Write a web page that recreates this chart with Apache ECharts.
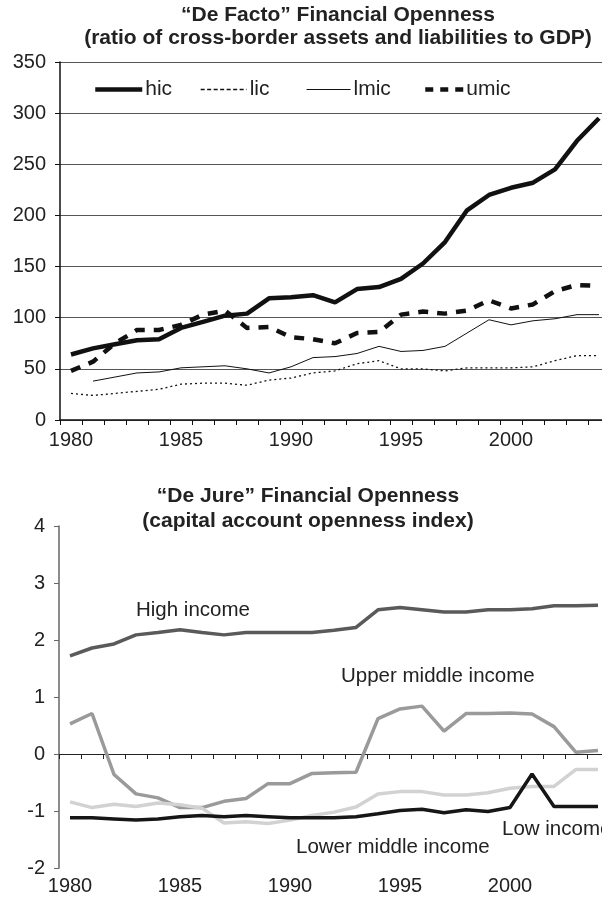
<!DOCTYPE html>
<html>
<head>
<meta charset="utf-8">
<script src="https://cdn.jsdelivr.net/npm/echarts@6/dist/echarts.min.js"></script>
<style>
html,body{margin:0;padding:0;background:#fff;overflow:hidden;}
#chart{width:612px;height:900px;}
</style>
</head>
<body>
<div id="chart"></div>
<script>
// ---- Data ----
var years = ['1980','1981','1982','1983','1984','1985','1986','1987','1988','1989','1990','1991','1992','1993','1994','1995','1996','1997','1998','1999','2000','2001','2002','2003','2004'];

// "De Facto" financial openness (% of GDP)
var hic  = [64, 70, 74, 78, 79, 90, 96, 102, 104, 119, 120, 122, 115, 128, 130, 138, 153, 174, 205, 220, 227, 232, 245, 273, 295];
var lic  = [26, 24, 26, 28, 30, 35, 36, 36, 34, 39, 41, 46, 48, 55, 58, 50, 50, 48, 51, 51, 51, 52, 58, 63, 63];
var lmic = [null, 38, 42, 46, 47, 51, 52, 53, 50, 46, 52, 61, 62, 65, 72, 67, 68, 72, 85, 98, 93, 97, 99, 103, 103];
var umic = [48, 57, 75, 88, 88, 93, 103, 107, 90, 91, 81, 79, 75, 85, 86, 103, 106, 104, 107, 117, 109, 113, 126, 132, 131];

// "De Jure" capital account openness index
var highIncome  = [1.72, 1.86, 1.93, 2.09, 2.13, 2.18, 2.13, 2.09, 2.13, 2.13, 2.13, 2.13, 2.17, 2.22, 2.53, 2.57, 2.53, 2.49, 2.49, 2.53, 2.53, 2.55, 2.60, 2.60, 2.61];
var upperMiddle = [0.53, 0.71, -0.36, -0.70, -0.77, -0.94, -0.94, -0.83, -0.78, -0.52, -0.52, -0.34, -0.33, -0.32, 0.62, 0.79, 0.84, 0.40, 0.71, 0.71, 0.72, 0.70, 0.48, 0.03, 0.06];
var lowerMiddle = [-0.84, -0.94, -0.88, -0.92, -0.86, -0.89, -0.95, -1.21, -1.19, -1.22, -1.16, -1.08, -1.02, -0.93, -0.70, -0.66, -0.66, -0.72, -0.72, -0.68, -0.60, -0.57, -0.57, -0.27, -0.27];
var lowIncome   = [-1.12, -1.12, -1.14, -1.16, -1.14, -1.10, -1.08, -1.10, -1.08, -1.10, -1.12, -1.12, -1.12, -1.10, -1.05, -0.99, -0.97, -1.03, -0.98, -1.01, -0.94, -0.35, -0.92, -0.92, -0.92];

var topTicks = [0, 50, 100, 150, 200, 250, 300, 350];
var bottomTicks = [-2, -1, 0, 1, 2, 3, 4];

var FONT = 'Liberation Sans, Arial, sans-serif';
var TXT = '#222';

var chart = echarts.init(document.getElementById('chart'), null, {renderer: 'canvas'});

function legendItem(name, left, w, lw, ltype) {
  return {
    data: [name], left: left, top: 79, padding: 0, itemWidth: w, itemHeight: 14, itemGap: 0,
    textStyle: {fontFamily: FONT, fontSize: 21, color: TXT, padding: [0, 0, 0, -2]},
    itemStyle: {color: 'rgba(0,0,0,0)', borderColor: 'rgba(0,0,0,0)', borderWidth: 0, opacity: 0},
    lineStyle: {color: '#111', width: lw, type: ltype},
    selectedMode: false
  };
}

var option = {
  animation: false,
  backgroundColor: '#fff',
  title: [
    {text: '“De Facto” Financial Openness\n(ratio of cross-border assets and liabilities to GDP)',
     left: 338, top: 4, textAlign: 'center', padding: 0,
     textStyle: {fontFamily: FONT, fontSize: 21, fontWeight: 'bold', color: TXT, lineHeight: 23}},
    {text: '“De Jure” Financial Openness\n(capital account openness index)',
     left: 308, top: 484, textAlign: 'center', padding: 0,
     textStyle: {fontFamily: FONT, fontSize: 21, fontWeight: 'bold', color: TXT, lineHeight: 25}}
  ],
  legend: [
    legendItem('hic', 93, 47, 4.5, 'solid'),
    legendItem('lic', 200, 46, 1.3, [4, 2.5]),
    legendItem('lmic', 306, 44, 1, 'solid'),
    legendItem('umic', 423, 38, 4.5, [8, 7])
  ],
  grid: [
    {left: 60, top: 62, width: 550, height: 358},
    {left: 59, top: 526, width: 550, height: 342}
  ],
  xAxis: [
    {type: 'category', gridIndex: 0, data: years, boundaryGap: true,
     axisLine: {lineStyle: {color: '#111', width: 1.5}},
     axisTick: {show: true, interval: 0, length: 5, lineStyle: {color: '#111'}},
     axisLabel: {interval: 4, fontFamily: FONT, fontSize: 20, color: TXT, margin: 10},
     splitLine: {show: false}},
    {type: 'category', gridIndex: 1, data: years, boundaryGap: true, position: 'bottom',
     axisLine: {onZero: true, lineStyle: {color: '#222', width: 1.2}},
     axisTick: {show: true, interval: 0, length: 5, lineStyle: {color: '#222'}},
     axisLabel: {show: false},
     splitLine: {show: false}},
    {type: 'category', gridIndex: 1, data: years, boundaryGap: true, position: 'bottom',
     axisLine: {show: false, onZero: false},
     axisTick: {show: false},
     axisLabel: {interval: 4, fontFamily: FONT, fontSize: 20, color: TXT, margin: 8},
     splitLine: {show: false}}
  ],
  yAxis: [
    {type: 'value', gridIndex: 0, min: topTicks[0], max: topTicks[topTicks.length - 1], interval: 50,
     axisLine: {show: true, lineStyle: {color: '#111', width: 1.5}},
     axisTick: {show: true, length: 5, lineStyle: {color: '#111'}},
     axisLabel: {fontFamily: FONT, fontSize: 20, color: TXT, margin: 14},
     splitLine: {show: true, lineStyle: {color: '#555', width: 1}}},
    {type: 'value', gridIndex: 1, min: bottomTicks[0], max: bottomTicks[bottomTicks.length - 1], interval: 1,
     axisLine: {show: true, onZero: false, lineStyle: {color: '#666', width: 1.5}},
     axisTick: {show: true, length: 5, lineStyle: {color: '#666'}},
     axisLabel: {fontFamily: FONT, fontSize: 20, color: TXT, margin: 14},
     splitLine: {show: false}}
  ],
  series: [
    {name: 'hic', type: 'line', xAxisIndex: 0, yAxisIndex: 0, data: hic, showSymbol: false, symbol: 'none',
     lineStyle: {color: '#111', width: 4.5}, itemStyle: {color: '#111'}},
    {name: 'lic', type: 'line', xAxisIndex: 0, yAxisIndex: 0, data: lic, showSymbol: false, symbol: 'none',
     lineStyle: {color: '#111', width: 1.3, type: [2, 3]}, itemStyle: {color: '#111'}},
    {name: 'lmic', type: 'line', xAxisIndex: 0, yAxisIndex: 0, data: lmic, showSymbol: false, symbol: 'none',
     lineStyle: {color: '#111', width: 1}, itemStyle: {color: '#111'}},
    {name: 'umic', type: 'line', xAxisIndex: 0, yAxisIndex: 0, data: umic, showSymbol: false, symbol: 'none',
     lineStyle: {color: '#111', width: 4.5, type: [10, 9]}, itemStyle: {color: '#111'}},

    {name: 'High income', type: 'line', xAxisIndex: 1, yAxisIndex: 1, data: highIncome, showSymbol: false, symbol: 'none',
     lineStyle: {color: '#5a5a5a', width: 3.5}},
    {name: 'Upper middle income', type: 'line', xAxisIndex: 1, yAxisIndex: 1, data: upperMiddle, showSymbol: false, symbol: 'none',
     lineStyle: {color: '#9a9a9a', width: 3.5}},
    {name: 'Lower middle income', type: 'line', xAxisIndex: 1, yAxisIndex: 1, data: lowerMiddle, showSymbol: false, symbol: 'none',
     lineStyle: {color: '#d2d2d2', width: 3.5}},
    {name: 'Low income', type: 'line', xAxisIndex: 1, yAxisIndex: 1, data: lowIncome, showSymbol: false, symbol: 'none',
     lineStyle: {color: '#161616', width: 3.5}}
  ],
  graphic: [
    {type: 'text', left: 136, top: 600, style: {text: 'High income', fontFamily: FONT, fontSize: 20.5, fill: TXT}},
    {type: 'text', left: 341, top: 666, style: {text: 'Upper middle income', fontFamily: FONT, fontSize: 20.5, fill: TXT}},
    {type: 'text', left: 502, top: 819, style: {text: 'Low income', fontFamily: FONT, fontSize: 20.5, fill: TXT}},
    {type: 'text', left: 296, top: 837, style: {text: 'Lower middle income', fontFamily: FONT, fontSize: 20.5, fill: TXT}}
  ]
};
chart.setOption(option);
</script>
</body>
</html>
